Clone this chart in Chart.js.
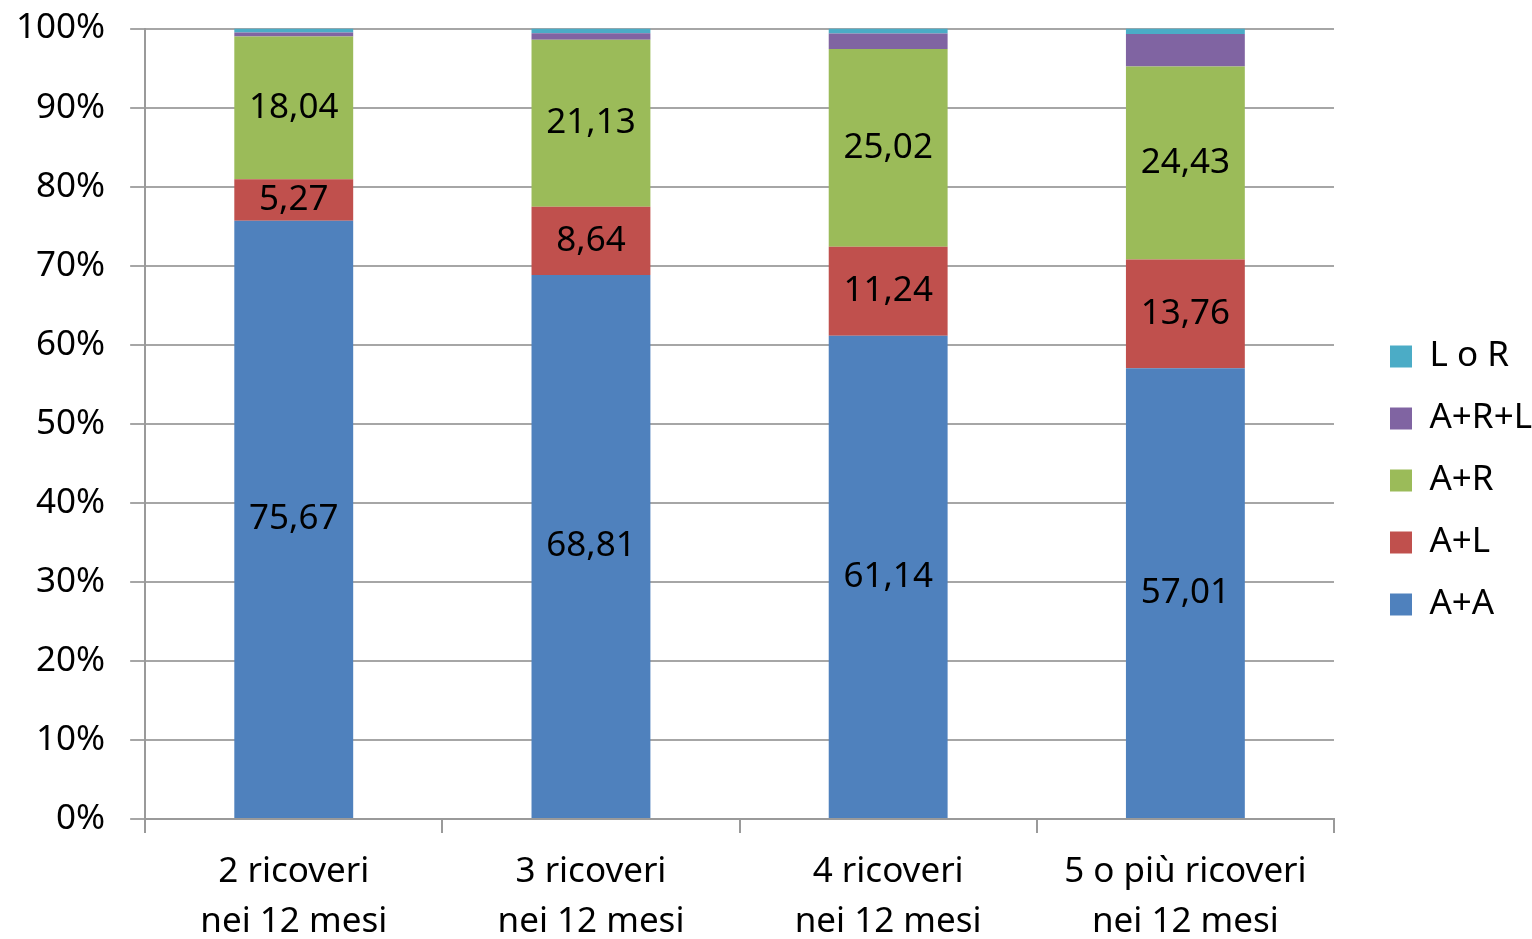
<!DOCTYPE html>
<html>
<head>
<meta charset="utf-8">
<script src="https://cdn.jsdelivr.net/npm/chart.js@4/dist/chart.umd.min.js"></script>
<style>
  html, body { margin: 0; padding: 0; background: #fff; }
  #wrap { width: 1532px; height: 939px; }
</style>
</head>
<body>
<div id="wrap"><canvas id="chart"></canvas></div>
<script>
// data
const categories = [
  ['2 ricoveri', 'nei 12 mesi'],
  ['3 ricoveri', 'nei 12 mesi'],
  ['4 ricoveri', 'nei 12 mesi'],
  ['5 o più ricoveri', 'nei 12 mesi'],
];
const aa = [75.67, 68.81, 61.14, 57.01];
const al = [5.27, 8.64, 11.24, 13.76];
const ar = [18.04, 21.13, 25.02, 24.43];
const arl = [0.52, 0.82, 1.96, 4.1];
const lr = [0.5, 0.6, 0.64, 0.7];

const font = 'Noto Sans';
const size = 35;

// labels inside the three big segments
const valueLabels = {
  id: 'valueLabels',
  afterDatasetsDraw(chart) {
    const ctx = chart.ctx;
    ctx.save();
    ctx.font = size + 'px "' + font + '"';
    ctx.fillStyle = '#000';
    ctx.textAlign = 'center';
    ctx.textBaseline = 'middle';
    chart.data.datasets.forEach((ds, i) => {
      if (!ds.showLabel) return;
      chart.getDatasetMeta(i).data.forEach((bar, j) => {
        const txt = ds.data[j].toFixed(2).replace('.', ',');
        ctx.fillText(txt, bar.x, (bar.y + bar.base) / 2);
      });
    });
    ctx.restore();
  }
};

// leave a wider gap between plot and legend
const legendGap = {
  id: 'legendGap',
  beforeLayout(chart) {
    const lg = chart.legend;
    if (lg && !lg._gapPatched) {
      const fit = lg.fit.bind(lg);
      lg.fit = function () { fit(); this.width += 19; };
      lg._gapPatched = true;
    }
  },
  afterLayout(chart) {
    const lg = chart.legend;
    if (lg) { lg.left += 29; lg.right += 29; }
  }
};

const data = {
  labels: categories,
  datasets: [
    {label: 'A+A', data: aa, backgroundColor: '#4F81BD', showLabel: true},
    {label: 'A+L', data: al, backgroundColor: '#C0504D', showLabel: true},
    {label: 'A+R', data: ar, backgroundColor: '#9BBB59', showLabel: true},
    {label: 'A+R+L', data: arl, backgroundColor: '#8064A2'},
    {label: 'L o R', data: lr, backgroundColor: '#4BACC6'},
  ],
};

const config = {
  type: 'bar',
  data,
  plugins: [valueLabels, legendGap],
  options: {
    responsive: true,
    maintainAspectRatio: false,
    animation: false,
    layout: {padding: {top: 0, left: -9, right: 0, bottom: -22}},
    datasets: {bar: {barPercentage: 0.4, categoryPercentage: 1}},
    plugins: {
      tooltip: {enabled: false},
      legend: {
        position: 'right',
        reverse: true,
        labels: {
          font: {family: font, size: size},
          color: '#000',
          boxWidth: 22,
          boxHeight: 22,
          padding: 27,
        },
      },
    },
    scales: {
      x: {
        stacked: true,
        grid: {drawOnChartArea: false, color: '#9a9a9a', tickLength: 14, lineWidth: 2},
        border: {color: '#9a9a9a', width: 2},
        ticks: {font: {family: font, size: size, lineHeight: 1.43}, color: '#000', padding: 14},
      },
      y: {
        stacked: true,
        min: 0,
        max: 100,
        grid: {color: '#a6a6a6', tickLength: 15, lineWidth: 2},
        border: {color: '#9a9a9a', width: 2},
        ticks: {
          stepSize: 10,
          font: {family: font, size: size, lineHeight: 0.2},
          color: '#000',
          padding: 25,
          callback: v => v + '%',
        },
      },
    },
  },
};

new Chart(document.getElementById('chart'), config);
</script>
</body>
</html>
